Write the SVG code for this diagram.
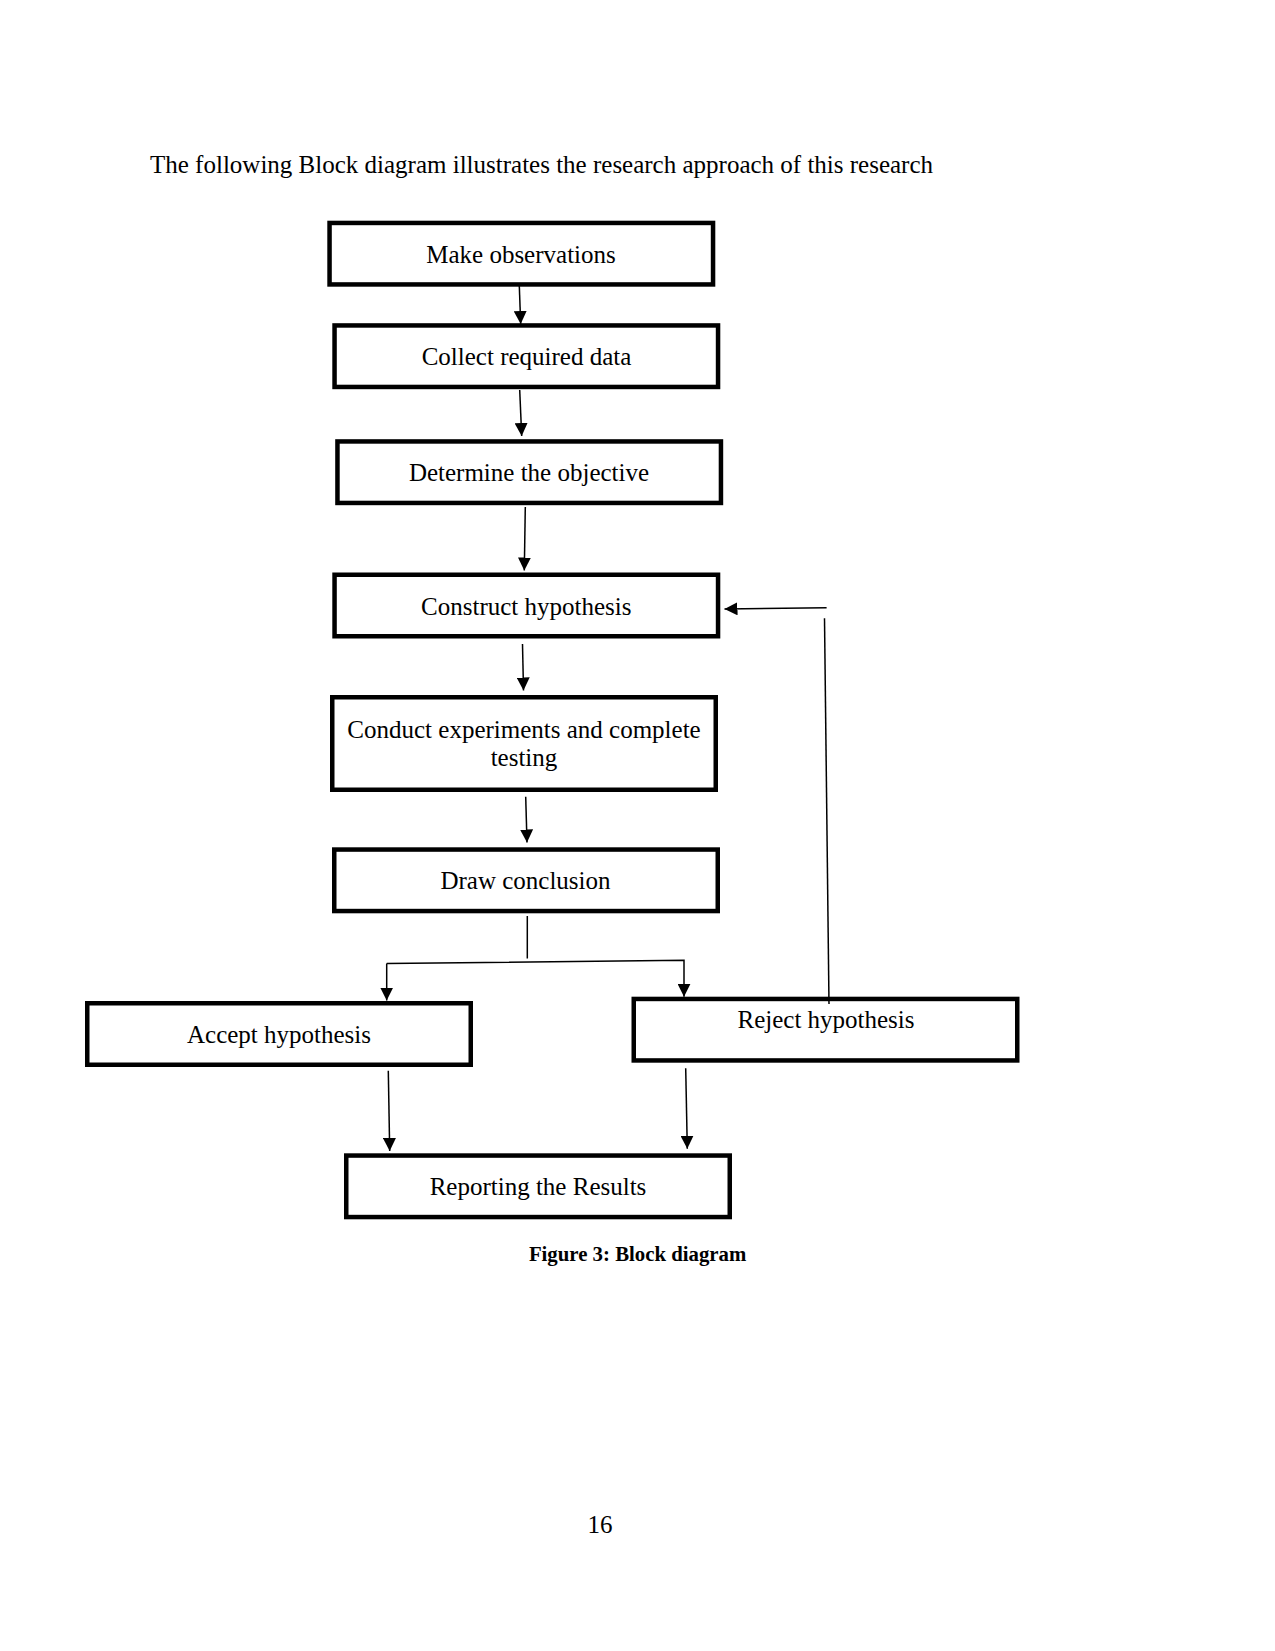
<svg xmlns="http://www.w3.org/2000/svg" width="1275" height="1651" viewBox="0 0 1275 1651">
<style>
.box{fill:#fff;stroke:#000;stroke-width:4.5}
.lbl{font-family:"Liberation Serif","Times New Roman",serif;font-size:25px;fill:#000;text-anchor:middle}
.txt{font-family:"Liberation Serif","Times New Roman",serif;font-size:25px;fill:#000}
.cap{font-family:"Liberation Serif","Times New Roman",serif;font-size:20.8px;font-weight:bold;fill:#000;text-anchor:middle}
.ln{fill:none;stroke:#000;stroke-width:1.5}
</style>
<defs>
<marker id="ah" markerUnits="userSpaceOnUse" markerWidth="13" markerHeight="13" viewBox="0 0 13 13" refX="13" refY="6.5" orient="auto">
<path d="M0,0 L13,6.5 L0,13 z" fill="#000"/>
</marker>
</defs>
<rect width="1275" height="1651" fill="#fff"/>
<text class="txt" x="150" y="173">The following Block diagram illustrates the research approach of this research</text>

<g id="n1"><rect class="box" x="329.55" y="222.95" width="383.5" height="61.5"/><text class="lbl" x="521" y="263">Make observations</text></g>
<g id="n2"><rect class="box" x="334.55" y="325.45" width="383.5" height="61.5"/><text class="lbl" x="526.5" y="365">Collect required data</text></g>
<g id="n3"><rect class="box" x="337.45" y="441.45" width="383.5" height="61.5"/><text class="lbl" x="529" y="481">Determine the objective</text></g>
<g id="n4"><rect class="box" x="334.55" y="574.75" width="383.5" height="61.5"/><text class="lbl" x="526.3" y="615">Construct hypothesis</text></g>
<g id="n5"><rect class="box" x="332.25" y="697.25" width="383.5" height="92.5"/><text class="lbl" x="524" y="738">Conduct experiments and complete</text><text class="lbl" x="524" y="766">testing</text></g>
<g id="n6"><rect class="box" x="334.25" y="849.55" width="383.5" height="61.5"/><text class="lbl" x="525.5" y="888.5">Draw conclusion</text></g>
<g id="n7"><rect class="box" x="87.25" y="1003.25" width="383.5" height="61.5"/><text class="lbl" x="279" y="1043">Accept hypothesis</text></g>
<g id="n8"><rect class="box" x="633.75" y="998.95" width="383.5" height="61.5"/><text class="lbl" x="826" y="1028.3">Reject hypothesis</text></g>
<g id="n9"><rect class="box" x="346.25" y="1155.55" width="383.5" height="61.5"/><text class="lbl" x="538" y="1195">Reporting the Results</text></g>

<g id="connectors">
<line class="ln" x1="519.3" y1="286" x2="520.7" y2="324" marker-end="url(#ah)"/>
<line class="ln" x1="519.7" y1="390" x2="521.7" y2="436" marker-end="url(#ah)"/>
<line class="ln" x1="525.3" y1="507" x2="524.3" y2="570.5" marker-end="url(#ah)"/>
<line class="ln" x1="522.5" y1="644" x2="523.5" y2="690.5" marker-end="url(#ah)"/>
<line class="ln" x1="525.7" y1="796.7" x2="527" y2="842.5" marker-end="url(#ah)"/>
<line class="ln" x1="527.3" y1="916" x2="527.3" y2="958.5"/>
<polyline class="ln" points="386.7,963.5 684,960.3 684,996.8" marker-end="url(#ah)"/>
<line class="ln" x1="386.7" y1="963.5" x2="386.7" y2="1000.5" marker-end="url(#ah)"/>
<line class="ln" x1="388.3" y1="1070.7" x2="389.7" y2="1151" marker-end="url(#ah)"/>
<line class="ln" x1="685.7" y1="1068.3" x2="687.3" y2="1148.7" marker-end="url(#ah)"/>
<line class="ln" x1="829" y1="1004" x2="824.5" y2="618.3"/>
<line class="ln" x1="826.6" y1="607.7" x2="724.5" y2="609" marker-end="url(#ah)"/>
</g>

<text class="cap" x="637.6" y="1261">Figure 3: Block diagram</text>
<text class="lbl" x="600" y="1533">16</text>
</svg>
